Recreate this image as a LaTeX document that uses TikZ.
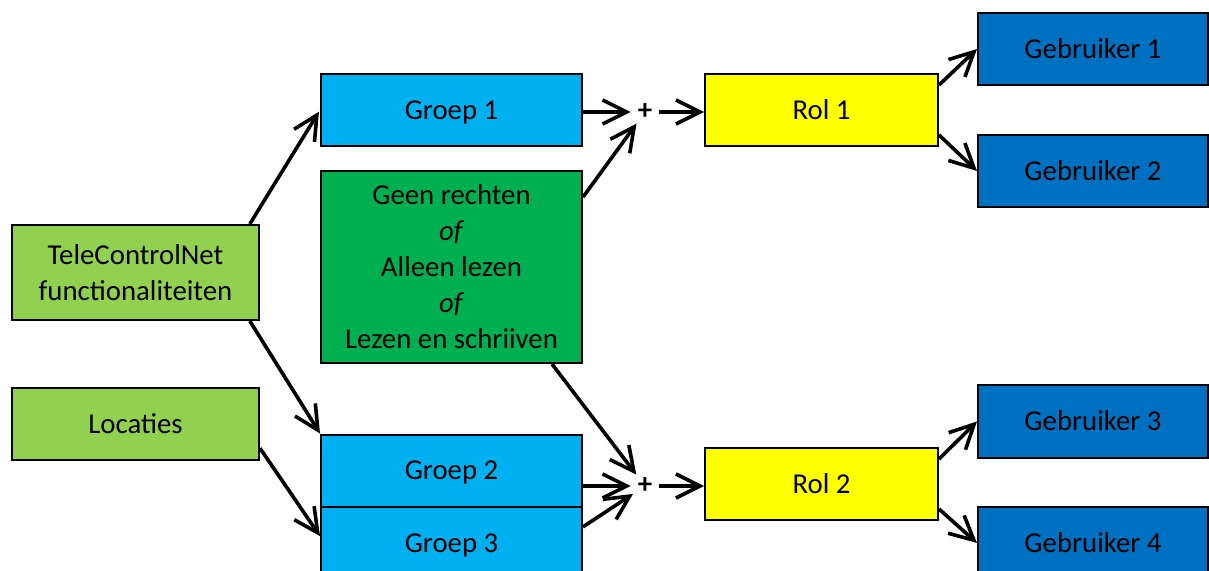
\documentclass[tikz,border=0pt]{standalone}
\usepackage{fontspec}
\setmainfont{Carlito}
\usepackage{xcolor}
\definecolor{funcgreen}{HTML}{92D050}
\definecolor{groepblue}{HTML}{00B0F0}
\definecolor{rechtgreen}{HTML}{00B050}
\definecolor{rolyellow}{HTML}{FFFF00}
\definecolor{gebrblue}{HTML}{0070C0}
\usepackage{tikz}
\usetikzlibrary{arrows.meta}

\begin{document}
\begin{tikzpicture}[x=0.5pt, y=-0.5pt,
	box/.style={rectangle, draw=black, line width=1pt, align=center, inner sep=2pt,
	            minimum height=36pt, font=\fontsize{14.4}{18}\selectfont},
	single/.style={text height=9.3pt, text depth=0pt},
	func/.style={box, fill=funcgreen, minimum width=123.5pt},
	groep/.style={box, single, fill=groepblue, minimum width=130.5pt},
	recht/.style={box, fill=rechtgreen, minimum width=130.5pt, minimum height=96pt},
	rol/.style={box, single, fill=rolyellow, minimum width=116.5pt},
	gebr/.style={box, single, fill=gebrblue, minimum width=115pt},
	plus/.style={circle, inner sep=0pt, minimum size=14pt, font=\fontsize{14.4}{18}\selectfont\bfseries},
	arr/.style={-{Straight Barb[length=12pt, width=12pt]}, line width=1.8pt}
	]
\clip (0,0) rectangle (1209,571);

\node[func, minimum height=47.5pt] (tcn) at (135.5,272.5) {TeleControlNet\\functionaliteiten};
\node[func, single] (loc) at (135.5,424) {Locaties};

\node[groep] (groep1) at (451.5,110) {Groep 1};
\node[recht] (recht) at (451.5,267)
  {Geen rechten\\ \emph{of}\\ Alleen lezen\\ \emph{of}\\ Lezen en schriiven};
\node[groep] (groep2) at (451.5,470.5) {Groep 2};
\node[groep] (groep3) at (451.5,543) {Groep 3};

\node[plus] (plus1) at (645,112) {+};
\node[plus] (plus2) at (645,486) {+};

\node[rol] (rol1) at (821.5,110) {Rol 1};
\node[rol] (rol2) at (821.5,484) {Rol 2};

\node[gebr] (geb1) at (1093,49) {Gebruiker 1};
\node[gebr] (geb2) at (1093,171) {Gebruiker 2};
\node[gebr] (geb3) at (1093,421.5) {Gebruiker 3};
\node[gebr] (geb4) at (1093,543) {Gebruiker 4};

\draw[arr, shorten >=1pt] (tcn.23) -- (groep1.west);
\draw[arr] (tcn.-23) -- (groep2.north west);
\draw[arr] (loc.-11) -- (groep3.177);

\draw[arr] (groep1.east |- plus1) -- (plus1);
\draw[arr] (recht.28) -- (plus1);
\draw[arr] (plus1) -- (rol1.west |- plus1);

\draw[arr] (recht.-44) -- (plus2);
\draw[arr] (groep2.east |- plus2) -- (plus2);
\draw[arr] (groep3.7) -- (plus2);
\draw[arr] (plus2) -- (rol2.west |- plus2);

\foreach \r/\a/\b in {rol1/geb1/geb2, rol2/geb3/geb4} {
  \draw[arr] (\r.12) -- (\a.west);
  \draw[arr] (\r.-12) -- (\b.west);
}
\end{tikzpicture}
\end{document}
